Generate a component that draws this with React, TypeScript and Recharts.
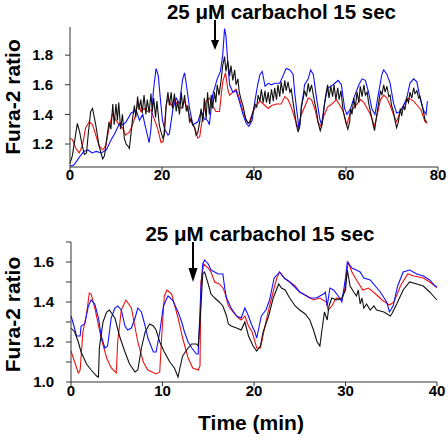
import { LineChart, Line, XAxis, YAxis } from 'recharts';

const FONT = '"Liberation Sans", Arial, sans-serif';
const RED = '#ee1111';
const BLUE = '#1010ff';
const BLACK = '#111111';

// time (min), Fura-2 ratio
const TOP_RED: [number, number][] = [
  [0, 1.24], [0.5, 1.23], [1.3, 1.17], [2, 1.14], [2.7, 1.19], [3.4, 1.31], [4.2, 1.35], [4.9, 1.33],
  [5.6, 1.26], [6.3, 1.19], [7.1, 1.16], [7.8, 1.19], [8.5, 1.31], [9.2, 1.4], [10, 1.36], [10.7, 1.33],
  [11.4, 1.31], [12.1, 1.26], [12.9, 1.28], [13.6, 1.33], [14.3, 1.4], [14.8, 1.49], [15.4, 1.42],
  [16.1, 1.44], [16.8, 1.42], [17.6, 1.43], [18.3, 1.37], [19, 1.31], [19.8, 1.21], [20.3, 1.22],
  [20.9, 1.46], [21.3, 1.51], [22, 1.46], [22.8, 1.5], [23.4, 1.46], [24.2, 1.44], [24.9, 1.49],
  [25.6, 1.43], [26.3, 1.35], [27.1, 1.31], [27.8, 1.24], [28.2, 1.25], [28.9, 1.4], [29.6, 1.49],
  [30.3, 1.51], [31, 1.46], [31.7, 1.42], [32.5, 1.42], [32.8, 1.51], [33.2, 1.62], [33.8, 1.68],
  [34.3, 1.57], [34.7, 1.53], [35.4, 1.55], [36.1, 1.57], [36.8, 1.51], [37.6, 1.42], [38.3, 1.36],
  [38.9, 1.34], [39.8, 1.42], [40.5, 1.46], [41.3, 1.49], [42.4, 1.46], [43.1, 1.44], [43.8, 1.46],
  [44.9, 1.47], [45.9, 1.47], [46.7, 1.52], [47.4, 1.5], [48.1, 1.45], [48.9, 1.37], [49.6, 1.31],
  [50.3, 1.4], [51, 1.45], [51.8, 1.51], [52.5, 1.5], [53.2, 1.44], [53.9, 1.35], [54.5, 1.32],
  [55.3, 1.4], [56, 1.45], [56.9, 1.47], [57.9, 1.5], [58.7, 1.46], [59.4, 1.42], [60.2, 1.33],
  [61, 1.42], [62.1, 1.46], [63.2, 1.5], [63.9, 1.48], [64.6, 1.44], [65.3, 1.4], [66.2, 1.32],
  [66.8, 1.4], [67.5, 1.5], [68.2, 1.53], [68.9, 1.51], [69.6, 1.46], [70.3, 1.4], [71, 1.35],
  [71.8, 1.42], [72.5, 1.46], [73.6, 1.51], [74.7, 1.49], [75.5, 1.46], [76.3, 1.43], [77.2, 1.35],
  [77.6, 1.34],
];

const TOP_BLUE: [number, number][] = [
  [0, 1.05], [0.9, 1.06], [2, 1.11], [3, 1.15], [3.9, 1.16], [4.8, 1.14], [5.7, 1.15], [6.8, 1.14],
  [7.9, 1.16], [8.8, 1.22], [9.7, 1.27], [10.8, 1.34], [11.5, 1.33], [12.2, 1.35], [13.3, 1.41],
  [14.4, 1.43], [15.1, 1.36], [15.8, 1.4], [16.3, 1.33], [17.2, 1.21], [17.6, 1.3], [18.1, 1.55],
  [18.7, 1.71], [19.2, 1.66], [19.6, 1.52], [20.1, 1.36], [20.6, 1.3], [21.3, 1.26], [21.6, 1.27],
  [22.4, 1.44], [23.1, 1.51], [23.8, 1.47], [24.5, 1.64], [24.9, 1.68], [25.3, 1.6], [26, 1.44],
  [26.7, 1.33], [27.8, 1.35], [28.5, 1.42], [29.2, 1.37], [29.9, 1.36], [30.3, 1.33], [31, 1.53],
  [32, 1.64], [32.7, 1.69], [33.2, 1.8], [33.6, 1.98], [33.9, 1.93], [34.3, 1.75], [34.7, 1.6],
  [35.4, 1.55], [36.1, 1.56], [36.8, 1.49], [37.6, 1.4], [38.3, 1.34], [38.9, 1.32], [39.6, 1.36],
  [40.3, 1.51], [40.8, 1.6], [41.3, 1.67], [41.8, 1.69], [42.4, 1.59], [43.1, 1.61], [43.8, 1.6],
  [44.5, 1.61], [45.6, 1.61], [46.3, 1.66], [47, 1.71], [47.8, 1.7], [48.5, 1.67], [48.9, 1.53],
  [49.6, 1.35], [49.8, 1.3], [50.3, 1.44], [51, 1.6], [51.8, 1.64], [52.3, 1.7], [52.9, 1.67],
  [53.6, 1.51], [54.3, 1.37], [54.7, 1.33], [55.4, 1.49], [56.1, 1.58], [57.2, 1.6], [58.3, 1.63],
  [59, 1.6], [59.7, 1.44], [60.2, 1.4], [61, 1.44], [61.7, 1.51], [62.8, 1.6], [63.5, 1.64],
  [64.2, 1.63], [64.9, 1.55], [65.6, 1.44], [66.3, 1.4], [67, 1.53], [67.8, 1.67], [68.2, 1.7],
  [68.9, 1.67], [69.6, 1.61], [70.3, 1.48], [71, 1.41], [71.8, 1.42], [72.5, 1.46], [73.2, 1.51],
  [73.9, 1.61], [74.7, 1.64], [75.4, 1.62], [76.1, 1.51], [76.8, 1.43], [77.4, 1.4], [77.7, 1.49],
];

const TOP_BLACK: [number, number][] = [
  [0, 1.07], [0.5, 1.12], [1, 1.22], [1.6, 1.34], [2.1, 1.28], [2.6, 1.2], [3.1, 1.13], [3.6, 1.14],
  [4, 1.28], [4.5, 1.42], [4.9, 1.44], [5.6, 1.33], [6.3, 1.19], [7.1, 1.1], [7.5, 1.12], [7.9, 1.22],
  [8.5, 1.35], [8.9, 1.3], [9.3, 1.47], [9.6, 1.33], [10, 1.47], [10.3, 1.36], [10.6, 1.48], [11, 1.3],
  [11.4, 1.4], [11.8, 1.24], [12.2, 1.2], [12.5, 1.19], [12.9, 1.17], [13.3, 1.28], [13.6, 1.37],
  [14, 1.46], [14.3, 1.38], [14.7, 1.52], [15, 1.43], [15.4, 1.5], [15.7, 1.41], [16.1, 1.53],
  [16.5, 1.4], [16.8, 1.5], [17.2, 1.41], [17.6, 1.54], [17.9, 1.42], [18.2, 1.51], [18.6, 1.38],
  [18.9, 1.49], [19.4, 1.33], [19.8, 1.28], [20.2, 1.24], [20.5, 1.26], [20.9, 1.46], [21.3, 1.55],
  [21.6, 1.46], [22, 1.55], [22.3, 1.44], [22.7, 1.54], [23.1, 1.42], [23.4, 1.49], [23.8, 1.4],
  [24.2, 1.55], [24.5, 1.44], [24.9, 1.53], [25.3, 1.42], [25.6, 1.46], [26, 1.35], [26.3, 1.37],
  [26.7, 1.33], [27.1, 1.31], [27.4, 1.26], [27.8, 1.28], [28.2, 1.35], [28.5, 1.44], [28.9, 1.35],
  [29.2, 1.51], [29.6, 1.37], [29.9, 1.55], [30.3, 1.4], [30.7, 1.53], [31, 1.44], [31.4, 1.55],
  [31.7, 1.48], [32, 1.6], [32.4, 1.53], [32.8, 1.62], [33.2, 1.73], [33.6, 1.79], [33.9, 1.69],
  [34.3, 1.76], [34.7, 1.66], [35, 1.73], [35.4, 1.63], [35.8, 1.7], [36.1, 1.6], [36.5, 1.64],
  [36.8, 1.55], [37.2, 1.5], [37.6, 1.46], [38.2, 1.37], [38.7, 1.34], [39.2, 1.35], [39.8, 1.42],
  [40.2, 1.47], [40.6, 1.45], [40.9, 1.53], [41.3, 1.49], [41.6, 1.57], [42, 1.48], [42.4, 1.56],
  [42.7, 1.48], [43.1, 1.55], [43.4, 1.47], [43.8, 1.57], [44.2, 1.49], [44.5, 1.58], [44.9, 1.5],
  [45.2, 1.6], [45.6, 1.52], [45.9, 1.62], [46.3, 1.54], [46.7, 1.63], [47, 1.56], [47.4, 1.62],
  [47.8, 1.55], [48.1, 1.57], [48.5, 1.48], [48.9, 1.4], [49.2, 1.33], [49.6, 1.28], [50, 1.33],
  [50.3, 1.46], [50.7, 1.51], [51, 1.56], [51.4, 1.52], [51.8, 1.61], [52.1, 1.55], [52.5, 1.6],
  [52.9, 1.53], [53.2, 1.48], [53.6, 1.42], [53.9, 1.35], [54.4, 1.29], [54.8, 1.33], [55.3, 1.46],
  [55.6, 1.53], [56, 1.6], [56.3, 1.51], [56.7, 1.59], [57.1, 1.52], [57.4, 1.6], [57.8, 1.5],
  [58.2, 1.58], [58.5, 1.5], [58.9, 1.56], [59.4, 1.42], [60, 1.34], [60.4, 1.3], [60.8, 1.35],
  [61, 1.44], [61.3, 1.4], [61.7, 1.51], [62, 1.44], [62.4, 1.55], [62.8, 1.48], [63.1, 1.59],
  [63.5, 1.52], [63.9, 1.6], [64.2, 1.53], [64.6, 1.55], [64.9, 1.48], [65.3, 1.42], [65.9, 1.33],
  [66.2, 1.29], [66.8, 1.42], [67.1, 1.48], [67.5, 1.56], [67.8, 1.53], [68.2, 1.6], [68.5, 1.55],
  [68.9, 1.59], [69.3, 1.52], [69.6, 1.53], [69.9, 1.46], [70.3, 1.42], [70.7, 1.35], [71, 1.31],
  [71.4, 1.35], [71.8, 1.44], [72.1, 1.39], [72.5, 1.46], [72.8, 1.43], [73.2, 1.51], [73.6, 1.48],
  [73.9, 1.55], [74.3, 1.51], [74.7, 1.58], [75, 1.54], [75.4, 1.56], [75.8, 1.51], [76.1, 1.52],
  [76.7, 1.44], [77.2, 1.36], [77.6, 1.35],
];

const BOTTOM_RED: [number, number][] = [
  [0, 1.155], [0.4, 1.1], [0.8, 1.045], [1, 1.06], [1.3, 1.25], [1.7, 1.34], [2, 1.445], [2.2, 1.44],
  [2.6, 1.37], [3.3, 1.22], [3.9, 1.12], [4.4, 1.07], [4.95, 1.045], [5.1, 1.2], [5.5, 1.36],
  [6, 1.41], [6.6, 1.37], [7.3, 1.2], [7.9, 1.1], [8.4, 1.06], [9.3, 1.04], [9.7, 1.05], [9.9, 1.22],
  [10.2, 1.43], [10.5, 1.46], [11, 1.44], [11.7, 1.32], [12.2, 1.22], [12.8, 1.12], [13.3, 1.07],
  [13.9, 1.06], [14.1, 1.08], [14.2, 1.5], [14.5, 1.59], [15, 1.57], [15.3, 1.55], [15.7, 1.5],
  [16.2, 1.49], [16.6, 1.47], [16.8, 1.45], [17.2, 1.38], [17.7, 1.35], [18.3, 1.32], [18.6, 1.31],
  [19, 1.33], [19.4, 1.28], [19.8, 1.25], [20.3, 1.17], [20.7, 1.17], [21.2, 1.28], [21.7, 1.38],
  [22.2, 1.47], [22.5, 1.52], [22.8, 1.55], [23.3, 1.52], [23.9, 1.5], [24.5, 1.48], [25, 1.45],
  [25.8, 1.43], [26.5, 1.41], [27.2, 1.42], [27.9, 1.4], [28.1, 1.36], [28.5, 1.38], [29, 1.42],
  [29.6, 1.41], [29.9, 1.46], [30.3, 1.6], [30.7, 1.55], [31.2, 1.51], [31.9, 1.46], [32.5, 1.47],
  [33.3, 1.44], [34, 1.41], [34.8, 1.385], [35.3, 1.4], [36, 1.48], [36.8, 1.54], [37.5, 1.53],
  [38.5, 1.52], [39.2, 1.5], [39.8, 1.48], [40, 1.47],
];

const BOTTOM_BLUE: [number, number][] = [
  [0, 1.33], [0.2, 1.3], [0.6, 1.23], [1, 1.23], [1.1, 1.28], [1.5, 1.29], [1.9, 1.38], [2.2, 1.41],
  [2.6, 1.39], [3, 1.32], [3.3, 1.23], [3.7, 1.17], [4, 1.18], [4.4, 1.32], [4.8, 1.37], [5.1, 1.38],
  [5.5, 1.36], [5.9, 1.28], [6.2, 1.26], [6.6, 1.27], [7, 1.32], [7.3, 1.37], [7.7, 1.35],
  [8.1, 1.28], [8.4, 1.22], [9, 1.15], [9.3, 1.15], [9.7, 1.25], [10.1, 1.38], [10.6, 1.43],
  [11.1, 1.41], [11.7, 1.35], [12.1, 1.3], [12.4, 1.25], [12.8, 1.2], [13.2, 1.17], [13.7, 1.14],
  [13.9, 1.14], [14.2, 1.47], [14.4, 1.59], [14.6, 1.61], [15, 1.59], [15.3, 1.56], [16.1, 1.54],
  [16.6, 1.54], [16.8, 1.47], [17, 1.42], [17.5, 1.37], [18.1, 1.33], [18.6, 1.32], [19, 1.37],
  [19.4, 1.33], [19.7, 1.29], [20.1, 1.25], [20.3, 1.22], [20.8, 1.33], [21.3, 1.36], [21.7, 1.41],
  [22.2, 1.52], [22.8, 1.55], [23.3, 1.52], [23.9, 1.5], [25, 1.45], [26.1, 1.42], [26.8, 1.42],
  [27.6, 1.44], [27.8, 1.45], [28, 1.38], [28.3, 1.47], [28.7, 1.46], [29.2, 1.43], [29.6, 1.4],
  [30, 1.52], [30.2, 1.6], [30.7, 1.57], [31.2, 1.56], [31.6, 1.55], [32, 1.52], [32.7, 1.51],
  [33.8, 1.45], [34.5, 1.4], [34.8, 1.35], [35.2, 1.38], [35.7, 1.48], [36.3, 1.55], [37, 1.56],
  [37.8, 1.54], [38.5, 1.53], [39.2, 1.51], [39.8, 1.48], [40, 1.475],
];

const BOTTOM_BLACK: [number, number][] = [
  [0, 1.27], [0.4, 1.25], [0.8, 1.2], [1.1, 1.15], [1.7, 1.09], [2.2, 1.06], [2.8, 1.03], [3, 1.025],
  [3.1, 1.17], [3.5, 1.3], [3.9, 1.35], [4.2, 1.36], [4.8, 1.32], [5.3, 1.23], [5.9, 1.15],
  [6.4, 1.09], [7, 1.05], [7.3, 1.06], [7.7, 1.17], [8.1, 1.25], [8.6, 1.29], [9, 1.28], [9.3, 1.26],
  [9.7, 1.2], [10.2, 1.15], [10.8, 1.1], [11.3, 1.07], [11.7, 1.025], [11.9, 1.07], [12.2, 1.13],
  [12.8, 1.17], [13.2, 1.19], [13.7, 1.19], [13.9, 1.18], [14.1, 1.3], [14.4, 1.54], [14.6, 1.55],
  [15, 1.49], [15.3, 1.44], [15.7, 1.42], [16.2, 1.4], [16.6, 1.38], [17, 1.33], [17.2, 1.29],
  [17.5, 1.28], [18.1, 1.27], [18.6, 1.26], [19, 1.3], [19.4, 1.23], [19.9, 1.18], [20.3, 1.155],
  [20.7, 1.18], [21, 1.25], [21.6, 1.33], [22.1, 1.42], [22.7, 1.49], [23, 1.47], [23.4, 1.46],
  [23.9, 1.42], [24.5, 1.38], [25, 1.36], [25.6, 1.34], [26.1, 1.31], [26.5, 1.26], [26.9, 1.2],
  [27.2, 1.18], [27.4, 1.25], [27.7, 1.35], [28, 1.31], [28.2, 1.38], [28.5, 1.42], [29, 1.41],
  [29.6, 1.42], [30, 1.46], [30.2, 1.56], [30.5, 1.48], [30.9, 1.45], [31.2, 1.43], [31.4, 1.46],
  [31.6, 1.39], [31.8, 1.42], [32, 1.37], [32.3, 1.39], [32.7, 1.36], [33.1, 1.38], [33.4, 1.36],
  [34.2, 1.35], [34.9, 1.33], [35.05, 1.34], [35.6, 1.39], [36.3, 1.46], [37, 1.5], [37.8, 1.49],
  [38.5, 1.48], [39.2, 1.45], [39.6, 1.43], [40, 1.41],
];

const TOP_X_TICKS = [0, 20, 40, 60, 80];
const TOP_Y_TICKS = [1.2, 1.4, 1.6, 1.8];
const BOTTOM_X_TICKS = [0, 10, 20, 30, 40];
const BOTTOM_Y_TICKS = [1.0, 1.1, 1.2, 1.3, 1.4, 1.5, 1.6, 1.7];

const TITLE = '25 \u03bcM carbachol 15 sec';

function merge(red: [number, number][], blue: [number, number][], black: [number, number][]) {
  const rows: Record<string, any> = {};
  const add = (arr: [number, number][], key: string) => {
    arr.forEach(([t, v]) => {
      const k = t.toFixed(3);
      if (!rows[k]) rows[k] = { t };
      rows[k][key] = v;
    });
  };
  add(red, 'red');
  add(blue, 'blue');
  add(black, 'black');
  return Object.values(rows).sort((a: any, b: any) => a.t - b.t);
}

const tickStyle = { fill: '#000', fontSize: 15, fontWeight: 700, fontFamily: FONT };
const axisStroke = '#333';

function Traces() {
  return [
    <Line key="r" dataKey="red" stroke={RED} strokeWidth={1.1} dot={false} connectNulls isAnimationActive={false} />,
    <Line key="b" dataKey="blue" stroke={BLUE} strokeWidth={1.1} dot={false} connectNulls isAnimationActive={false} />,
    <Line key="k" dataKey="black" stroke={BLACK} strokeWidth={1.1} dot={false} connectNulls isAnimationActive={false} />,
  ];
}

export default function App() {
  const topData = merge(TOP_RED, TOP_BLUE, TOP_BLACK);
  const bottomData = merge(BOTTOM_RED, BOTTOM_BLUE, BOTTOM_BLACK);

  return (
    <div style={{ position: 'absolute', left: 0, top: 0, width: 448, height: 442, background: '#fff' }}>
      <div style={{ position: 'absolute', left: 0, top: 0 }}>
        <LineChart width={448} height={200} data={topData} margin={{ top: 27, right: 10, bottom: 0, left: 0 }}>
          <XAxis
            type="number"
            dataKey="t"
            domain={[0, 80]}
            ticks={TOP_X_TICKS}
            height={33}
            tick={tickStyle}
            tickSize={4}
            tickMargin={-2}
            stroke={axisStroke}
          />
          <YAxis
            type="number"
            domain={[1.045, 1.99]}
            ticks={TOP_Y_TICKS}
            width={70}
            tick={tickStyle}
            tickSize={5}
            tickMargin={12}
            tickFormatter={(v: number) => v.toFixed(1)}
            stroke={axisStroke}
          />
          {Traces()}
        </LineChart>
      </div>
      <div style={{ position: 'absolute', left: 0, top: 200 }}>
        <LineChart width={448} height={242} data={bottomData} margin={{ top: 42, right: 11, bottom: 0, left: 0 }}>
          <XAxis
            type="number"
            dataKey="t"
            domain={[0, 40]}
            ticks={BOTTOM_X_TICKS}
            height={60}
            tick={tickStyle}
            tickSize={4}
            tickMargin={-1}
            stroke={axisStroke}
          />
          <YAxis
            type="number"
            domain={[1.0, 1.7]}
            ticks={BOTTOM_Y_TICKS}
            width={71}
            tick={tickStyle}
            tickSize={5}
            tickMargin={12}
            tickFormatter={(v: number) => (Math.round(v * 10) % 2 === 0 ? v.toFixed(1) : '')}
            stroke={axisStroke}
          />
          {Traces()}
        </LineChart>
      </div>
      <svg
        width={448}
        height={442}
        style={{ position: 'absolute', left: 0, top: 0, pointerEvents: 'none' }}
        fontFamily={FONT}
        fontWeight={700}
      >
        <text x={281.5} y={18.5} fontSize={20.5} textAnchor="middle" fill="#000">{TITLE}</text>
        <line x1={215} y1={20} x2={215} y2={42} stroke="#000" strokeWidth={2} />
        <polygon points="211,40 219,40 215,50" fill="#000" />
        <text x={20} y={97} fontSize={21} textAnchor="middle" fill="#000" transform="rotate(-90 20 97)">Fura-2 ratio</text>

        <text x={260} y={240.7} fontSize={20.5} textAnchor="middle" fill="#000">{TITLE}</text>
        <line x1={193} y1={242} x2={193} y2={272} stroke="#000" strokeWidth={2} />
        <polygon points="188.5,268 197.5,268 193,282" fill="#000" />
        <text x={20} y={314.5} fontSize={21} textAnchor="middle" fill="#000" transform="rotate(-90 20 314.5)">Fura-2 ratio</text>

        <text x={251} y={430} fontSize={21} textAnchor="middle" fill="#000">Time (min)</text>
      </svg>
    </div>
  );
}
